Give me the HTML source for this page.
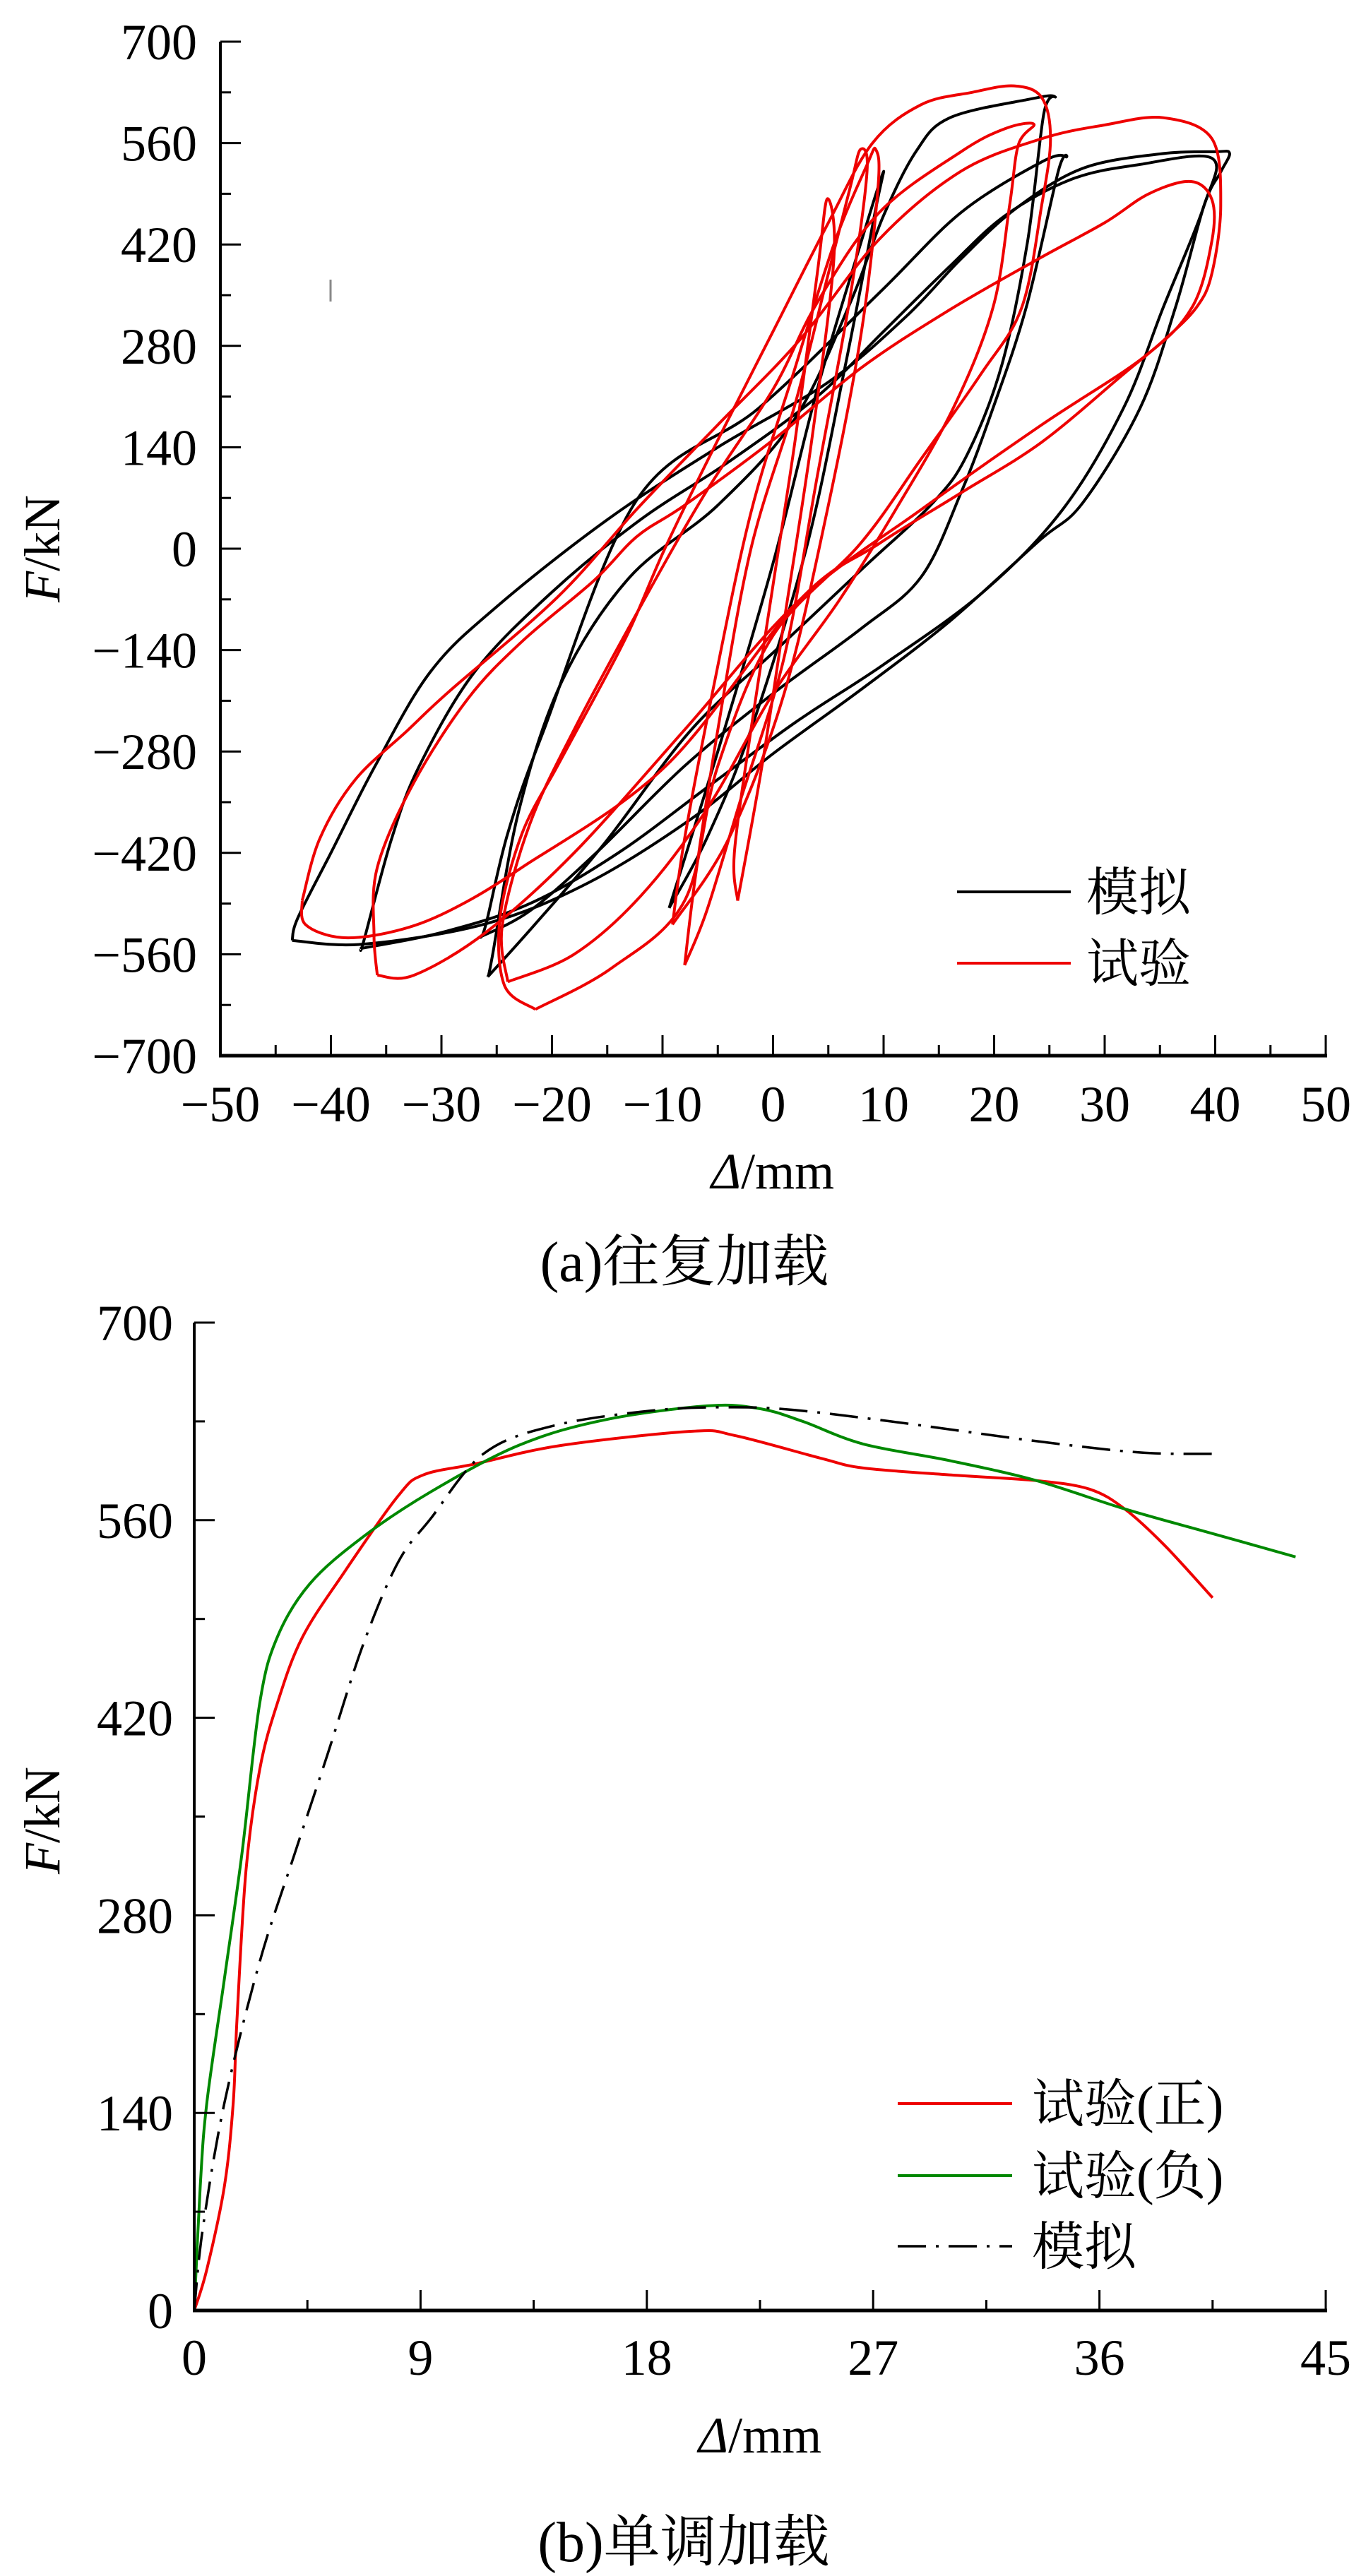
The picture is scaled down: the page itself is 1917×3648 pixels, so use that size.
<!DOCTYPE html>
<html><head><meta charset="utf-8"><style>
html,body{margin:0;padding:0;background:#fff;}
svg{display:block;font-family:"Liberation Serif","Noto Serif CJK SC",serif;}
</style></head><body>
<svg id="svg" width="1917" height="3648" viewBox="0 0 1917 3648" xmlns="http://www.w3.org/2000/svg">
<rect width="1917" height="3648" fill="#fff"/>
<g id="topChart"></g>
<g id="botChart"></g>
<line x1="468" y1="396" x2="468" y2="427" stroke="#888" stroke-width="3"/>
<text x="1094" y="1683" font-size="72" text-anchor="middle"><tspan font-style="italic">Δ</tspan>/mm</text>
<text transform="translate(84,777) rotate(-90)" font-size="72" text-anchor="middle"><tspan font-style="italic">F</tspan>/kN</text>
<text x="969" y="1814" font-size="80" text-anchor="middle">(a)往复加载</text>
<text x="1076" y="3473" font-size="72" text-anchor="middle"><tspan font-style="italic">Δ</tspan>/mm</text>
<text transform="translate(84,2578) rotate(-90)" font-size="72" text-anchor="middle"><tspan font-style="italic">F</tspan>/kN</text>
<text x="968" y="3627" font-size="80" text-anchor="middle">(b)单调加载</text>
<g>
<line x1="1355" y1="1263" x2="1516" y2="1263" stroke="#000" stroke-width="4"/>
<text x="1538" y="1289" font-size="74">模拟</text>
<line x1="1355" y1="1364" x2="1516" y2="1364" stroke="#e00" stroke-width="4"/>
<text x="1538" y="1390" font-size="74">试验</text>
</g>
<g>
<line x1="1271" y1="2979" x2="1433" y2="2979" stroke="#e00" stroke-width="4"/>
<text x="1461" y="3005" font-size="74">试验(正)</text>
<line x1="1271" y1="3081" x2="1433" y2="3081" stroke="#080" stroke-width="4"/>
<text x="1461" y="3107" font-size="74">试验(负)</text>
<line x1="1271" y1="3181" x2="1433" y2="3181" stroke="#000" stroke-width="3.5" stroke-dasharray="40 14 4 14"/>
<text x="1461" y="3207" font-size="74">模拟</text>
</g>
</svg>
<script>
// ---- chart (a) data: hysteresis loops [displacement mm, force kN]
const simLoopSmall = [[-9.4,-496],[-5,-280],[0,-20],[4,220],[7.5,400],[9.9,517],[9.3,470],[6.5,250],[3,0],[-2,-250],[-6,-400],[-9.4,-496]];
const simLoop25a = [[-25.8,-591],[-25.4,-563],[-23,-362],[-19.1,-183],[-13,-40],[-5,60],[2,180],[7,340],[10,460],[13,550],[16,595],[23,620],[25.5,624],[24.5,601],[23,422],[20.7,254],[17.6,131],[14.5,64],[8.2,-26],[0.4,-138],[-7.4,-250],[-15.2,-406],[-21.5,-518],[-25.8,-591]];
const simLoop25b = [[-26.6,-537],[-26,-520],[-24,-393],[-20.8,-253],[-12.3,68],[-1.3,194],[9.6,353],[17,464],[24.3,534],[26.5,541],[25.8,521],[22.9,333],[19.9,194],[17,77],[13.4,-39],[8,-110],[0,-200],[-8,-300],[-16,-420],[-22,-500],[-26.6,-537]];
const simLoop40a = [[-43.5,-541],[-43,-510],[-40,-420],[-36,-300],[-31,-170],[-25,-80],[-15,40],[-5,140],[5,230],[12,320],[17,400],[22,470],[28,525],[35,545],[40,548],[41.3,546],[40.5,520],[39,474],[36.4,333],[33.2,194],[28,63],[24,10],[16,-100],[8,-194],[0,-283],[-7.4,-373],[-16.8,-462],[-26,-518],[-37,-546],[-43.5,-541]];
const simLoop40b = [[-37.3,-552],[-37,-540],[-34.5,-400],[-32,-300],[-27,-170],[-20,-60],[-12,40],[-4,120],[4,210],[10,300],[16,390],[21,460],[27,510],[33,530],[39.7,539],[39,474],[35.3,333],[31.7,194],[26.2,54],[19,-60],[10,-160],[2,-240],[-6,-330],[-14,-420],[-22,-490],[-30,-530],[-37.3,-552]];
const testLoopS1 = [[-8,-575],[-7,-450],[-5,-250],[-2,0],[2,200],[5,380],[7,500],[7.9,551],[8.5,520],[7,350],[4,100],[1,-150],[-3,-350],[-6,-500],[-8,-575]];
const testLoopS2 = [[-9.1,-519],[-8,-400],[-5.5,-200],[-2,50],[2,250],[5.5,420],[8.5,530],[9.3,551],[9.5,500],[8,300],[5,60],[1,-200],[-4,-400],[-9.1,-519]];
const testLoopS3 = [[-3.2,-486],[-3.5,-420],[-2,-250],[0,-50],[2,150],[4,380],[4.9,483],[5.5,400],[3.5,150],[1,-100],[-1,-300],[-3.2,-486]];
const testLoop22 = [[-21.5,-636],[-24.3,-603],[-24.7,-510],[-22.7,-393],[-19.5,-300],[-16.2,-207],[-13,-113],[-9.7,3],[-5,150],[0,300],[5,450],[9,560],[13.4,613],[18,630],[21.8,639],[24.3,623],[25.1,566],[24.3,474],[22.5,333],[18.8,241],[13.4,124],[7.9,7],[0,-120],[-5,-300],[-8,-486],[-14.6,-579],[-21.5,-636]];
const testLoop24 = [[-24,-598],[-24.5,-520],[-22,-380],[-18,-250],[-12,-80],[-6,80],[0,220],[4,340],[9.6,464],[17,548],[21,580],[23.6,586],[22.2,558],[21.4,474],[19.9,333],[16.3,194],[11.1,54],[6,-71],[0,-200],[-6,-360],[-12,-480],[-18,-560],[-24,-598]];
const testLoop40a = [[-42.6,-486],[-41,-400],[-37.8,-319],[-33,-250],[-29.3,-197],[-19.5,-67],[-12.3,55],[-5,171],[2.4,288],[9.6,427],[17,521],[24.3,566],[30,585],[35.3,595],[39.7,566],[40.5,474],[39.7,380],[38.3,333],[35.3,287],[31.7,241],[24.3,147],[17,77],[9.6,7],[2.4,-71],[-9.7,-300],[-22.7,-440],[-29.3,-500],[-34.2,-528],[-39,-537],[-42.3,-519],[-42.6,-486]];
const testLoop40b = [[-35.8,-589],[-36.1,-533],[-35.8,-440],[-32.5,-323],[-27.6,-207],[-22.7,-128],[-16.2,-44],[-12.3,17],[-8,60],[0,150],[8,250],[16,330],[24,400],[30,450],[34,490],[37.8,507],[39.7,482],[39.7,425],[37.9,333],[33.5,264],[24.3,171],[13.4,54],[2.4,-71],[-8,-250],[-18,-420],[-26,-530],[-32.5,-589],[-35.8,-589]];
const simLoops = [simLoopSmall, simLoop25a, simLoop25b, simLoop40a, simLoop40b];
const testLoops = [testLoopS1, testLoopS2, testLoopS3, testLoop22, testLoop24, testLoop40a, testLoop40b];
const aXTicks = [-50,-40,-30,-20,-10,0,10,20,30,40,50];
const aYTicks = [-700,-560,-420,-280,-140,0,140,280,420,560,700];

// ---- chart (b) data
const posTest = [[0,0],[0.5,29],[1.2,88],[1.55,147],[1.7,206],[2.06,312],[2.6,383],[3.3,430],[4.3,477],[6,524],[8.1,577],[9.1,592],[11.2,600],[14.6,613],[19.8,623],[21.5,620],[24.9,604],[26.6,597],[30.1,592],[33.5,588],[35.6,582],[37,568],[38.6,542],[40.5,505]];
const negTest = [[0,0],[0.24,88],[0.5,147],[1.2,235],[1.9,324],[2.6,430],[3.3,477],[4.6,515],[6.7,548],[9.4,580],[12.9,613],[16.3,631],[20.4,641],[22.5,639],[24.2,630],[26.6,614],[30.1,602],[33.5,588],[37,568],[40.4,551],[43.8,534]];
const simMono = [[0,0],[0.34,58],[1.2,147],[2.6,247],[4,324],[5.3,394],[6.7,471],[8.1,530],[9.4,561],[11.5,607],[14.3,627],[18.4,638],[21.5,640],[23.9,638],[27.7,630],[33.5,616],[37.6,608],[40.5,607]];
const bXTicks = [0,9,18,27,36,45];
const bYTicks = [0,140,280,420,560,700];

const NS = "http://www.w3.org/2000/svg";
function mk(tag, attrs, parent){const e=document.createElementNS(NS,tag);for(const k in attrs)e.setAttribute(k,attrs[k]);parent.appendChild(e);return e;}
function smooth(pts){
  let d="M"+pts[0][0].toFixed(1)+","+pts[0][1].toFixed(1);
  for(let i=0;i<pts.length-1;i++){
    const p0=pts[Math.max(0,i-1)],p1=pts[i],p2=pts[i+1],p3=pts[Math.min(pts.length-1,i+2)];
    const c1=[p1[0]+(p2[0]-p0[0])/6,p1[1]+(p2[1]-p0[1])/6];
    const c2=[p2[0]-(p3[0]-p1[0])/6,p2[1]-(p3[1]-p1[1])/6];
    d+=" C"+c1[0].toFixed(1)+","+c1[1].toFixed(1)+" "+c2[0].toFixed(1)+","+c2[1].toFixed(1)+" "+p2[0].toFixed(1)+","+p2[1].toFixed(1);
  }
  return d;
}
function fmt(v){return v<0?"\u2212"+Math.abs(v):String(v);}

// chart a axes
const ax = d => 312 + (d + 50) * (1877 - 312) / 100;
const ay = f => 777 - f * (1436 / 1400);
const gA = document.getElementById('topChart');
simLoops.forEach(loop=>{
  const p=mk('path',{d:smooth(loop.map(q=>[ax(q[0]),ay(q[1])])),fill:'none',stroke:'#000','stroke-width':4,'stroke-linejoin':'round'},gA);
  
  
});
testLoops.forEach(loop=>{
  const p=mk('path',{d:smooth(loop.map(q=>[ax(q[0]),ay(q[1])])),fill:'none',stroke:'#e00','stroke-width':4,'stroke-linejoin':'round'},gA);
  
  
});
{
  const l1=mk('line',{x1:312,y1:ay(700),x2:312,y2:ay(-700)+2,stroke:'#000','stroke-width':4},gA);
   
  const l2=mk('line',{x1:310,y1:ay(-700),x2:1879,y2:ay(-700),stroke:'#000','stroke-width':5},gA);
   
  for(let v=-50;v<=50;v+=5){const maj=v%10===0;const t=mk('line',{x1:ax(v),x2:ax(v),y1:ay(-700),y2:ay(-700)-(maj?29:15),stroke:'#000','stroke-width':3},gA);}
  for(let v=-700;v<=700;v+=70){const maj=v%140===0;const t=mk('line',{x1:312,x2:312+(maj?29:15),y1:ay(v),y2:ay(v),stroke:'#000','stroke-width':3},gA);}
  aXTicks.forEach(v=>{const t=mk('text',{x:ax(v),y:1588,'font-size':72,'text-anchor':'middle'},gA);t.textContent=fmt(v);});
  aYTicks.forEach(v=>{const t=mk('text',{x:279,y:ay(v)+25,'font-size':72,'text-anchor':'end'},gA);t.textContent=fmt(v);});
}

// chart b axes
const bx = d => 275 + d * (1877 - 275) / 45;
const by = f => 3272 - f * (1399 / 700);
const gB = document.getElementById('botChart');
{
  const p1=mk('path',{d:smooth(posTest.map(q=>[bx(q[0]),by(q[1])])),fill:'none',stroke:'#e00','stroke-width':4},gB);
   
  const p2=mk('path',{d:smooth(negTest.map(q=>[bx(q[0]),by(q[1])])),fill:'none',stroke:'#080','stroke-width':4},gB);
   
  const p3=mk('path',{d:smooth(simMono.map(q=>[bx(q[0]),by(q[1])])),fill:'none',stroke:'#000','stroke-width':3.5,'stroke-dasharray':'40 14 4 14'},gB);
   
  const l1=mk('line',{x1:275,y1:by(700),x2:275,y2:by(0)+2,stroke:'#000','stroke-width':4},gB);
   
  const l2=mk('line',{x1:273,y1:by(0),x2:1879,y2:by(0),stroke:'#000','stroke-width':5},gB);
   
  for(let i=0;i<=10;i++){const v=i*4.5;const maj=i%2===0;const t=mk('line',{x1:bx(v),x2:bx(v),y1:by(0),y2:by(0)-(maj?29:15),stroke:'#000','stroke-width':3},gB);}
  for(let v=0;v<=700;v+=70){const maj=v%140===0;const t=mk('line',{x1:275,x2:275+(maj?29:15),y1:by(v),y2:by(v),stroke:'#000','stroke-width':3},gB);}
  bXTicks.forEach(v=>{const t=mk('text',{x:bx(v),y:3363,'font-size':72,'text-anchor':'middle'},gB);t.textContent=fmt(v);});
  bYTicks.forEach(v=>{const t=mk('text',{x:245,y:by(v)+25,'font-size':72,'text-anchor':'end'},gB);t.textContent=fmt(v);});
}
</script>
</body></html>
